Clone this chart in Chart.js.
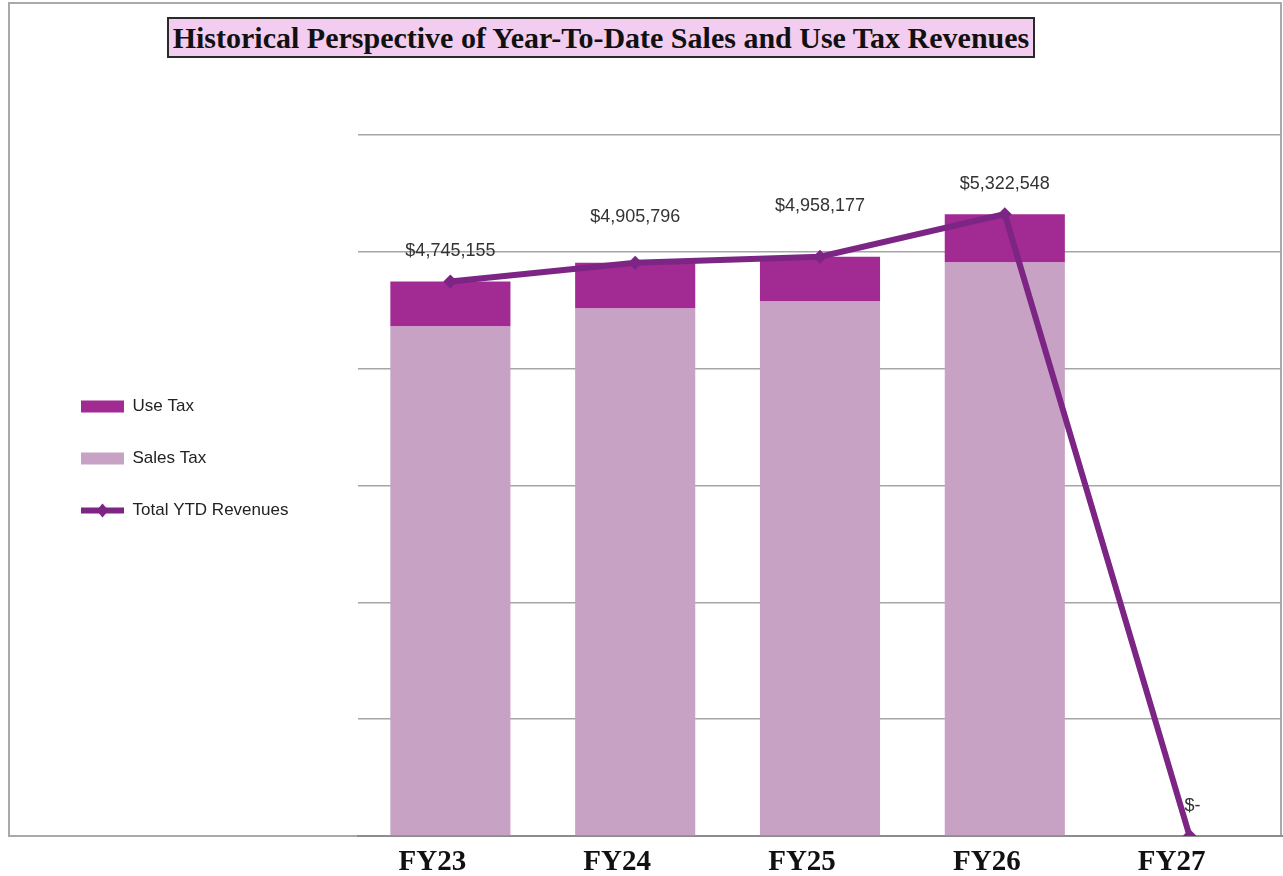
<!DOCTYPE html>
<html lang="en">

<head>
	<meta charset="UTF-8">
	<title>Historical Perspective of Year-To-Date Sales and Use Tax Revenues</title>
	<script src="https://cdn.jsdelivr.net/npm/chart.js"></script>
	<style>
		body {
			margin: 0;
			background: #fff;
		}

		.wrap {
			position: relative;
			width: 1283px;
			height: 876px;
			overflow: hidden;
		}

		.frame {
			position: absolute;
			left: 8px;
			top: 2px;
			width: 1274px;
			height: 835px;
			box-sizing: border-box;
			border: 2px solid #a9a9a9;
		}

		.title {
			position: absolute;
			left: 167px;
			top: 17px;
			width: 868px;
			height: 41px;
			box-sizing: border-box;
			border: 2px solid #2a2a2a;
			background: #f2cdf0;
			font: bold 30px "Liberation Serif", "Times New Roman", serif;
			color: #111;
			line-height: 37px;
			text-align: center;
			white-space: nowrap;
			z-index: 2;
		}

		canvas {
			position: absolute;
			left: 0;
			top: 0;
			z-index: 1;
		}
	</style>
</head>

<body>
	<div class="wrap">
		<div class="frame"></div>
		<div class="title">Historical Perspective of Year-To-Date Sales and Use Tax Revenues</div>
		<canvas id="taxChart" width="1283" height="876"></canvas>
	</div>

	<script>
		// values
		const years = ['FY23', 'FY24', 'FY25', 'FY26', 'FY27'];
		const salesTax = [4360000, 4514000, 4574000, 4908000, 0];
		const useTax = [385155, 391796, 384177, 414548, 0];
		const totalYTD = [4745155, 4905796, 4958177, 5322548, 0];

		const USE_COLOR = '#a22a93';
		const SALES_COLOR = '#c8a2c4';
		const LINE_COLOR = '#7c2584';

		// how far above each point its label sits (Excel had them hand placed)
		const labelLift = [31, 46, 51, 30, 30];

		const fmt = v => v === 0 ? '$-' : '$' + v.toLocaleString('en-US');

		// value labels over the total line + diamond on the legend line
		const extras = {
			id: 'extras',
			afterDatasetsDraw(chart) {
				const ctx = chart.ctx;
				const meta = chart.getDatasetMeta(2);
				ctx.save();
				ctx.font = '18px "Liberation Sans", Arial, sans-serif';
				ctx.fillStyle = '#333';
				ctx.textAlign = 'center';
				ctx.textBaseline = 'middle';
				meta.data.forEach((pt, i) => {
					ctx.fillText(fmt(totalYTD[i]), pt.x + (i == 4 ? 3 : 0), pt.y - labelLift[i]);
				});
				ctx.restore();
			},
			afterDraw(chart) {
				const lg = chart.legend;
				if (!lg || !lg.legendHitBoxes[2]) return;
				const hb = lg.legendHitBoxes[2];
				const cx = hb.left + 43 / 2;
				const cy = hb.top + hb.height / 2;
				const ctx = chart.ctx;
				ctx.save();
				ctx.fillStyle = LINE_COLOR;
				ctx.beginPath();
				ctx.moveTo(cx, cy - 7);
				ctx.lineTo(cx + 6, cy);
				ctx.lineTo(cx, cy + 7);
				ctx.lineTo(cx - 6, cy);
				ctx.closePath();
				ctx.fill();
				ctx.restore();
			}
		};

		const ctx = document.getElementById('taxChart').getContext('2d');
		new Chart(ctx, {
			type: 'bar',
			data: {
				labels: years,
				datasets: [
					{
						label: 'Use Tax',
						data: useTax,
						backgroundColor: USE_COLOR,
						order: 2,
						pointStyle: 'rect'
					},
					{
						label: 'Sales Tax',
						data: salesTax,
						backgroundColor: SALES_COLOR,
						order: 1,
						pointStyle: 'rect'
					},
					{
						type: 'line',
						label: 'Total YTD Revenues',
						data: totalYTD,
						stack: 'total',
						borderColor: LINE_COLOR,
						backgroundColor: LINE_COLOR,
						borderWidth: 6,
						pointStyle: 'rectRot',
						pointRadius: 7,
						pointBackgroundColor: LINE_COLOR,
						pointBorderWidth: 0,
						tension: 0,
						order: 0
					}
				]
			},
			options: {
				responsive: false,
				animation: false,
				layout: {
					autoPadding: false,
					padding: { top: 135, left: 46, right: 1, bottom: -13 }
				},
				datasets: {
					bar: {
						categoryPercentage: 1,
						barPercentage: 0.65
					}
				},
				scales: {
					x: {
						stacked: true,
						grid: { display: false, drawTicks: false },
						border: { color: '#8c8c8c', width: 2 },
						ticks: {
							color: '#111',
							padding: 12,
							labelOffset: -18,
							font: { family: '"Liberation Serif", "Times New Roman", serif', size: 29, weight: 'bold', lineHeight: 1 }
						}
					},
					y: {
						stacked: true,
						min: 0,
						max: 6000000,
						ticks: { display: false, stepSize: 1000000 },
						grid: { color: '#a6a6a6', lineWidth: 1.5, drawTicks: false },
						border: { display: false },
						afterFit(scale) {
							const lg = scale.chart.legend;
							const used = 46 + (lg && lg.width ? lg.width : 240);
							scale.width = Math.max(0, 358 - used);
						}
					}
				},
				plugins: {
					tooltip: { enabled: false },
					legend: {
						position: 'left',
						align: 'start',
						title: {
							display: true,
							text: '',
							font: { size: 10, lineHeight: 1 },
							padding: { top: 218, bottom: 0 }
						},
						labels: {
							usePointStyle: true,
							pointStyleWidth: 43,
							boxHeight: 12,
							padding: 35,
							color: '#222',
							font: { family: '"Liberation Sans", Arial, sans-serif', size: 17 },
							sort: (a, b) => a.datasetIndex - b.datasetIndex,
							generateLabels(chart) {
								const items = Chart.defaults.plugins.legend.labels.generateLabels(chart);
								items.forEach(it => {
									if (it.datasetIndex === 2) {
										it.pointStyle = 'line';
										it.strokeStyle = LINE_COLOR;
										it.lineWidth = 6;
									} else {
										it.pointStyle = 'rect';
										it.lineWidth = 0;
									}
								});
								return items;
							}
						}
					}
				}
			},
			plugins: [extras]
		});
	</script>

</body>

</html>
